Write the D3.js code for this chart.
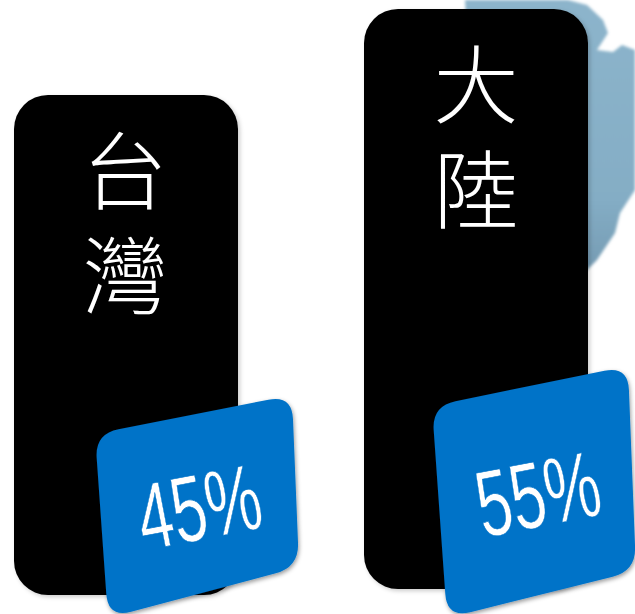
<!DOCTYPE html>
<html><head><meta charset="utf-8">
<script src="https://cdnjs.cloudflare.com/ajax/libs/d3/7.8.5/d3.min.js"></script>
<style>html,body{margin:0;padding:0;background:#fff;overflow:hidden}svg{display:block}</style>
</head><body><svg id="c" width="635" height="614"></svg>
<script>
const categories = ["台灣", "大陸"];
const shareValues = [45, 55];
const shareLabels = ["45%", "55%"];

const svg = d3.select("#c");
const x = d3.scaleBand().domain(categories).range([14, 588]).paddingInner(0.36).paddingOuter(0);
const y = d3.scaleLinear().domain([45, 55]).range([95, 9]);

// layout only
const baselines = [595, 589];
const cardQuads = [
  [[95, 434], [292, 395], [299, 567], [108, 618]],
  [[432, 406], [628, 366], [636, 571], [447, 618]]
];
const labelCentres = [[199, 507], [538, 494]];
const charStart = [[125, 203], [476, 117]];
const charStep = [105, 105];
const charSize = 85;
const mapOutline = [[465,0],[568,0],[587,5],[603,20],[608,33],[597,50],[613,52],[622,45],[635,50],[635,190],[620,213],[615,233],[597,260],[575,282],[480,282],[465,0]];

const defs = svg.append("defs");
const sh = defs.append("filter").attr("id","barShadow").attr("x","-10%").attr("y","-10%").attr("width","120%").attr("height","120%");
sh.append("feDropShadow").attr("dx",2).attr("dy",2).attr("stdDeviation",2).attr("flood-color","#000").attr("flood-opacity",0.2);
const sh2 = defs.append("filter").attr("id","cardShadow").attr("x","-10%").attr("y","-10%").attr("width","120%").attr("height","120%");
sh2.append("feDropShadow").attr("dx",1).attr("dy",2).attr("stdDeviation",2).attr("flood-color","#000").attr("flood-opacity",0.4);
defs.append("filter").attr("id","mapBlur").append("feGaussianBlur").attr("stdDeviation",1.5);
const g = defs.append("linearGradient").attr("id","mapFill").attr("x1",0).attr("y1",0).attr("x2",0).attr("y2",1);
g.append("stop").attr("offset",0).attr("stop-color","#8cb4cb");
g.append("stop").attr("offset",0.7).attr("stop-color","#84adc5");
g.append("stop").attr("offset",1).attr("stop-color","#7399b0");

svg.append("path").attr("d", d3.line().curve(d3.curveLinear)(mapOutline))
  .attr("fill","url(#mapFill)").attr("filter","url(#mapBlur)");

svg.selectAll("rect.bar").data(categories).join("rect").attr("class","bar")
  .attr("x", d => x(d)).attr("width", x.bandwidth())
  .attr("y", (d,i) => y(shareValues[i]))
  .attr("height", (d,i) => baselines[i] - y(shareValues[i]))
  .attr("rx", 34).attr("ry", 34).attr("fill","#000").attr("filter","url(#barShadow)");

categories.forEach((cat,i) => {
  Array.from(cat).forEach((ch,k) => {
    svg.append("text").text(ch)
      .attr("x", charStart[i][0]).attr("y", charStart[i][1] + k*charStep[i])
      .attr("text-anchor","middle").attr("fill","#fff")
      .attr("font-family","'Noto Sans CJK TC'").attr("font-weight",300).attr("font-size",charSize);
  });
});

function roundedQuad(q, r){
  const n = q.length; let d = "";
  for(let i=0;i<n;i++){
    const p=q[i], a=q[(i+n-1)%n], b=q[(i+1)%n];
    const la=Math.hypot(a[0]-p[0],a[1]-p[1]), lb=Math.hypot(b[0]-p[0],b[1]-p[1]);
    const s=[p[0]+(a[0]-p[0])*r/la,p[1]+(a[1]-p[1])*r/la], e=[p[0]+(b[0]-p[0])*r/lb,p[1]+(b[1]-p[1])*r/lb];
    d += (i?"L":"M")+s[0]+","+s[1]+"Q"+p[0]+","+p[1]+" "+e[0]+","+e[1];
  }
  return d+"Z";
}
svg.selectAll("path.card").data(cardQuads).join("path").attr("class","card")
  .attr("d", d => roundedQuad(d, 24)).attr("fill","#0073c8").attr("filter","url(#cardShadow)");

svg.selectAll("text.share").data(shareLabels).join("text").attr("class","share")
  .text(d => d)
  .attr("transform",(d,i)=>`translate(${labelCentres[i][0]},${labelCentres[i][1]}) rotate(-11) scale(0.66,1)`)
  .attr("text-anchor","middle").attr("dominant-baseline","central")
  .attr("fill","#fff").attr("stroke","#0073c8").attr("stroke-width",0.6)
  .attr("font-family","'Liberation Sans'").attr("font-size",94);
</script></body></html>
